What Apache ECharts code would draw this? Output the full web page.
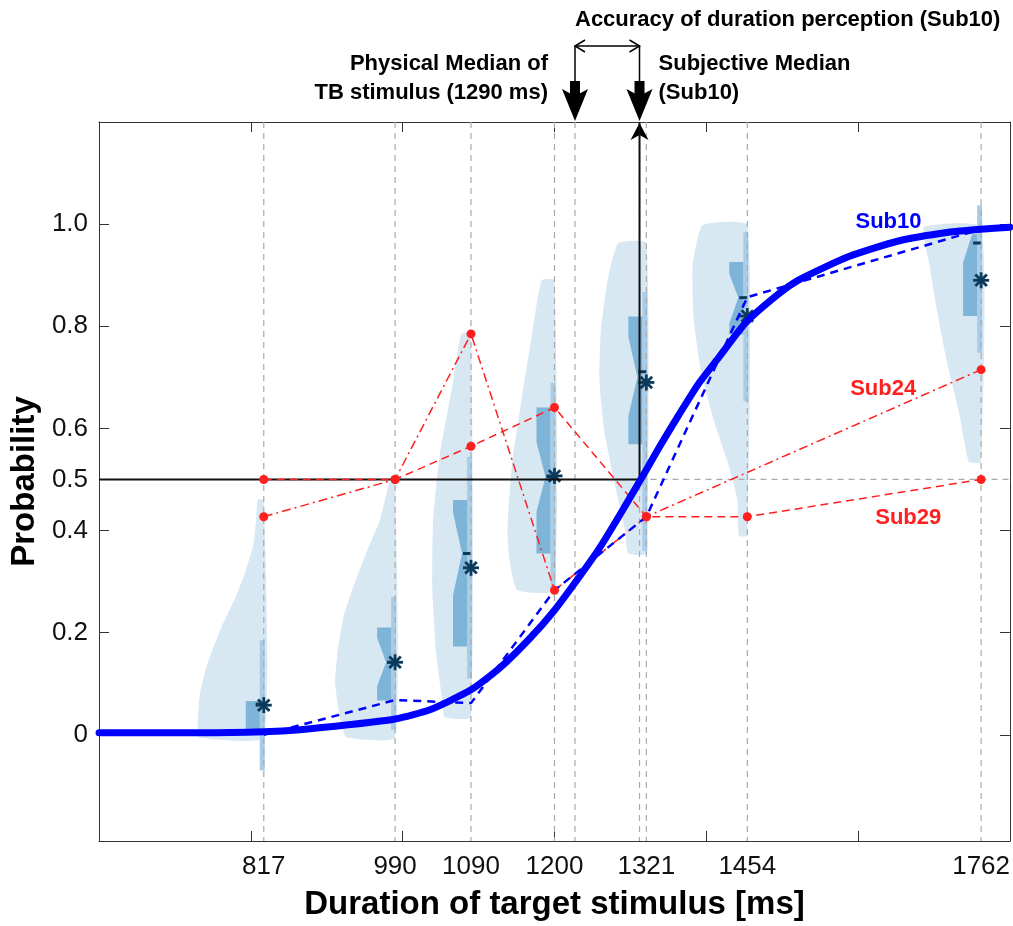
<!DOCTYPE html>
<html>
<head>
<meta charset="utf-8">
<script src="https://cdn.jsdelivr.net/npm/echarts@6/dist/echarts.min.js"></script>
<style>
  html, body { margin: 0; padding: 0; background: #fff; }
  #main { width: 1013px; height: 926px; }
</style>
</head>
<body>
<div id="main"></div>
<script>
// 刺激时长 (ms)
const stimuli = [817, 990, 1090, 1200, 1321, 1454, 1762]
const xTicks = [800, 1000, 1200, 1400, 1600]
const yTicks = [0, 0.2, 0.4, 0.6, 0.8, 1.0]
const yTickLabels = [0, 0.2, 0.4, 0.5, 0.6, 0.8, 1.0]
const physicalMedian = 1227
const subjectiveMedian = 1312

// half violins: [probability, half width in ms], top -> bottom
const violin817 = [[0.46, 8], [0.42, 10], [0.37, 14], [0.32, 24], [0.27, 37], [0.21, 56], [0.14, 74], [0.08, 84], [0.02, 87], [-0.005, 86]]
const violin990 = [[0.495, 7], [0.42, 20], [0.36, 37], [0.29, 55], [0.23, 68], [0.16, 76], [0.10, 79], [0.03, 72], [-0.005, 64]]
const violin1090 = [[0.785, 13], [0.68, 25], [0.55, 41], [0.42, 50], [0.29, 51], [0.16, 46], [0.07, 38], [0.035, 35]]
const violin1200 = [[0.89, 17], [0.79, 29], [0.66, 43], [0.53, 56], [0.40, 62], [0.34, 59], [0.283, 49]]
const violin1321 = [[0.963, 37], [0.89, 51], [0.79, 60], [0.70, 62], [0.60, 56], [0.50, 43], [0.40, 28], [0.355, 24]]
const violin1454 = [[0.998, 59], [0.92, 72], [0.82, 71], [0.72, 62], [0.62, 45], [0.53, 25], [0.46, 13], [0.39, 11]]
const violin1762 = [[0.994, 75], [0.92, 68], [0.83, 58], [0.73, 45], [0.63, 29], [0.534, 16]]
const violins = [violin817, violin990, violin1090, violin1200, violin1321, violin1454, violin1762]

// box: [q1, q3, notch low, notch high, median]
const boxes = [
  [0.005, 0.066, 0.066, 0.066, 0.066],
  [0.067, 0.21, 0.095, 0.19, 0.142],
  [0.173, 0.46, 0.273, 0.436, 0.355],
  [0.355, 0.641, 0.437, 0.573, 0.505],
  [0.569, 0.819, 0.624, 0.78, 0.70],
  [0.784, 0.926, 0.806, 0.903, 0.856],
  [0.82, 0.98, 0.925, 0.98, 0.98]
]
const medians = [0.06, 0.142, 0.355, 0.505, 0.711, 0.856, 0.963]
const whiskerLow = [-0.07, 0.01, 0.11, 0.287, 0.36, 0.653, 0.748]
const whiskerHigh = [0.185, 0.27, 0.544, 0.69, 0.867, 0.985, 1.037]
const means = [0.058, 0.142, 0.327, 0.507, 0.69, 0.82, 0.89]

const sub10Empirical = [0, 0.068, 0.062, 0.283, 0.427, 0.857, 0.99]
const sub24 = [0.427, 0.5, 0.785, 0.283, 0.427, null, 0.715]
const sub29 = [0.5, 0.5, 0.565, 0.641, 0.427, 0.427, 0.5]

// fitted psychometric curve (Sub10)
const fitX = [600, 734, 817, 865, 931, 990, 1036, 1090, 1128, 1167, 1200, 1233, 1259, 1285, 1312, 1338, 1364, 1390, 1417, 1452, 1495, 1522, 1587, 1653, 1719, 1761, 1800]
const fitY = [0.004, 0.004, 0.006, 0.010, 0.020, 0.031, 0.049, 0.088, 0.131, 0.188, 0.244, 0.310, 0.365, 0.428, 0.496, 0.563, 0.627, 0.688, 0.740, 0.807, 0.863, 0.891, 0.936, 0.967, 0.984, 0.990, 0.994]

const violinColor = '#d8e8f3'
const boxColor = '#7db4d8'
const whiskerColor = '#a9cde8'
const darkNavy = '#0b3a5a'
const red = '#ff1f1f'
const blue = '#0000ff'
const FONT = '"Liberation Sans", Arial, sans-serif'

const idxData = stimuli.map((s, i) => [s, i])

const chart = echarts.init(document.getElementById('main'))

const axisLine = { onZero: false, show: true, lineStyle: { color: '#333', width: 1 } }

const option = {
  animation: false,
  grid: { left: 98, right: 1, top: 122, bottom: 83 },
  xAxis: [{
    type: 'value', min: 600, max: 1800, position: 'bottom',
    name: 'Duration of target stimulus [ms]', nameLocation: 'middle', nameGap: 47,
    nameTextStyle: { fontFamily: FONT, fontWeight: 'bold', fontSize: 33, color: '#000' },
    axisLine,
    axisTick: { inside: true, length: 10, customValues: xTicks, lineStyle: { color: '#333' } },
    axisLabel: { customValues: stimuli, fontFamily: FONT, fontSize: 26, color: '#111', margin: 13, formatter: v => String(v) },
    splitLine: { show: false }
  }, {
    type: 'value', min: 600, max: 1800, position: 'top',
    axisLine,
    axisTick: { inside: true, length: 10, customValues: xTicks, lineStyle: { color: '#333' } },
    axisLabel: { show: false },
    splitLine: { show: false }
  }],
  yAxis: [{
    type: 'value', min: -0.208, max: 1.2, position: 'left',
    name: 'Probability', nameLocation: 'middle', nameGap: 52, nameRotate: 90,
    nameTextStyle: { fontFamily: FONT, fontWeight: 'bold', fontSize: 33, color: '#000' },
    axisLine,
    axisTick: { show: true, inside: true, length: 10, customValues: yTicks, lineStyle: { color: '#333' } },
    axisLabel: {
      customValues: yTickLabels, fontFamily: FONT, fontSize: 26, color: '#111', margin: 11,
      formatter: v => (v === 0 ? '0' : v.toFixed(1))
    },
    splitLine: { show: false }
  }, {
    type: 'value', min: -0.208, max: 1.2, position: 'right',
    axisLine,
    axisTick: { show: true, inside: true, length: 10, customValues: yTicks, lineStyle: { color: '#333' } },
    axisLabel: { show: false },
    splitLine: { show: false }
  }],
  series: [
    { // 小提琴
      type: 'custom', clip: true, data: idxData,
      renderItem: (params, api) => {
        const i = api.value(1)
        const s = stimuli[i]
        const shape = violins[i]
        const pts = [api.coord([s, shape[0][0]])]
        shape.forEach(([p, w]) => pts.push(api.coord([s - w, p])))
        pts.push(api.coord([s, shape[shape.length - 1][0]]))
        return { type: 'polygon', shape: { points: pts, smooth: 0.15 }, style: { fill: violinColor } }
      }
    },
    { // whisker bars
      type: 'custom', clip: true, data: idxData,
      renderItem: (params, api) => {
        const i = api.value(1)
        const a = api.coord([stimuli[i], whiskerHigh[i]])
        const b = api.coord([stimuli[i], whiskerLow[i]])
        return { type: 'rect', shape: { x: a[0] - 4, y: a[1], width: 5, height: b[1] - a[1] }, style: { fill: whiskerColor } }
      }
    },
    { // notched boxes
      type: 'custom', clip: true, data: idxData,
      renderItem: (params, api) => {
        const i = api.value(1)
        const [q1, q3, nLo, nHi, med] = boxes[i]
        const x0 = api.coord([stimuli[i], 0])[0]
        const y = v => api.coord([stimuli[i], v])[1]
        const L = x0 - 18, R = x0 - 4, N = x0 - 9
        let pts
        if (nLo === nHi) {
          pts = [[R, y(q3)], [L, y(q3)], [L, y(q1)], [R, y(q1)]]
        } else {
          pts = [[R, y(q3)], [L, y(q3)], [L, y(nHi)], [N, y(med)], [L, y(nLo)], [L, y(q1)], [R, y(q1)]]
        }
        return { type: 'polygon', shape: { points: pts }, style: { fill: boxColor } }
      }
    },
    { // median marks
      type: 'custom', clip: true, data: idxData,
      renderItem: (params, api) => {
        const i = api.value(1)
        const c = api.coord([stimuli[i], medians[i]])
        return { type: 'rect', shape: { x: c[0] - 8, y: c[1] - 1.5, width: 8, height: 3 }, style: { fill: darkNavy } }
      }
    },
    { // gray dashed reference lines
      type: 'custom', clip: true,
      data: stimuli.concat([physicalMedian, subjectiveMedian]).map(v => [v, 0]),
      renderItem: (params, api) => {
        const a = api.coord([api.value(0), 1.2])
        const b = api.coord([api.value(0), -0.208])
        return {
          type: 'line', shape: { x1: a[0], y1: a[1], x2: b[0], y2: b[1] },
          style: { stroke: '#aaaaaa', lineWidth: 1.2, lineDash: [6, 5] }
        }
      }
    },
    {
      type: 'line', symbol: 'none', silent: true,
      data: [[subjectiveMedian, 0.5], [1800, 0.5]],
      lineStyle: { color: '#aaaaaa', width: 1.2, type: [6, 5] }
    },
    { // black guide lines
      type: 'line', symbol: 'none', silent: true,
      data: [[600, 0.5], [subjectiveMedian, 0.5], [subjectiveMedian, 1.2]],
      lineStyle: { color: '#111', width: 2 }
    },
    {
      name: 'Sub29', type: 'line', symbol: 'circle', symbolSize: 9,
      data: stimuli.map((s, i) => [s, sub29[i]]),
      lineStyle: { color: red, width: 1.5, type: [8, 5] },
      itemStyle: { color: red }
    },
    {
      name: 'Sub24', type: 'line', symbol: 'circle', symbolSize: 9, connectNulls: true,
      data: stimuli.map((s, i) => [s, sub24[i]]),
      lineStyle: { color: red, width: 1.5, type: [9, 4, 2, 4] },
      itemStyle: { color: red }
    },
    {
      name: 'Sub10 data', type: 'line', symbol: 'none',
      data: stimuli.map((s, i) => [s, sub10Empirical[i]]),
      lineStyle: { color: blue, width: 2.5, type: [8, 6] }
    },
    {
      name: 'Sub10', type: 'line', symbol: 'none', smooth: 0.2,
      data: fitX.map((x, i) => [x, fitY[i]]),
      lineStyle: { color: blue, width: 7, join: 'round', cap: 'round' }
    },
    { // mean asterisks
      type: 'custom', clip: true, data: idxData,
      renderItem: (params, api) => {
        const i = api.value(1)
        const [cx, cy] = api.coord([stimuli[i], means[i]])
        const r = 8, d = r * 0.72
        const st = { stroke: darkNavy, lineWidth: 2.8 }
        return {
          type: 'group', children: [
            { type: 'line', shape: { x1: cx - r, y1: cy, x2: cx + r, y2: cy }, style: st },
            { type: 'line', shape: { x1: cx, y1: cy - r, x2: cx, y2: cy + r }, style: st },
            { type: 'line', shape: { x1: cx - d, y1: cy - d, x2: cx + d, y2: cy + d }, style: st },
            { type: 'line', shape: { x1: cx - d, y1: cy + d, x2: cx + d, y2: cy - d }, style: st }
          ]
        }
      }
    },
    { // annotations (arrows and texts)
      type: 'custom', clip: false, data: [[subjectiveMedian, 1.2]],
      renderItem: (params, api) => {
        const [xp, top] = api.coord([physicalMedian, 1.2])
        const xs = api.coord([subjectiveMedian, 1.2])[0]
        const k = { fill: '#000' }
        const ln = { stroke: '#000', lineWidth: 1.5, fill: null }
        const font = 'bold 22px ' + FONT
        const downArrow = x => [
          { type: 'line', shape: { x1: x, y1: top - 76, x2: x, y2: top - 40 }, style: ln },
          { type: 'rect', shape: { x: x - 5, y: top - 41, width: 10, height: 15 }, style: k },
          { type: 'polygon', shape: { points: [[x - 13, top - 33], [x, top - 26], [x + 13, top - 33], [x, top - 1]] }, style: k }
        ]
        const txt = (text, x, y, align, fill, f) => ({
          type: 'text', style: { text, x, y, align, verticalAlign: 'middle', font: f || font, fill: fill || '#000' }
        })
        const labelAt = (x, p, text, fill) => {
          const c = api.coord([x, p])
          return txt(text, c[0], c[1], 'center', fill, 'bold 22px ' + FONT)
        }
        return {
          type: 'group', children: [
            ...downArrow(xp), ...downArrow(xs),
            { type: 'line', shape: { x1: xp, y1: top - 76, x2: xs, y2: top - 76 }, style: ln },
            { type: 'polyline', shape: { points: [[xp + 10, top - 82], [xp, top - 76], [xp + 10, top - 70]] }, style: ln },
            { type: 'polyline', shape: { points: [[xs - 10, top - 82], [xs, top - 76], [xs - 10, top - 70]] }, style: ln },
            { type: 'polygon', shape: { points: [[xs, top + 1], [xs - 9, top + 18], [xs, top + 13], [xs + 9, top + 18]] }, style: k },
            txt('Accuracy of duration perception (Sub10)', xp, top - 102, 'left'),
            txt('Physical Median of', xp - 27, top - 58, 'right'),
            txt('TB stimulus (1290 ms)', xp - 27, top - 29, 'right'),
            txt('Subjective Median', xs + 19, top - 58, 'left'),
            txt('(Sub10)', xs + 19, top - 29, 'left'),
            labelAt(1640, 1.005, 'Sub10', blue),
            labelAt(1633, 0.678, 'Sub24', red),
            labelAt(1666, 0.424, 'Sub29', red)
          ]
        }
      }
    }
  ]
}

chart.setOption(option)
</script>
</body>
</html>
